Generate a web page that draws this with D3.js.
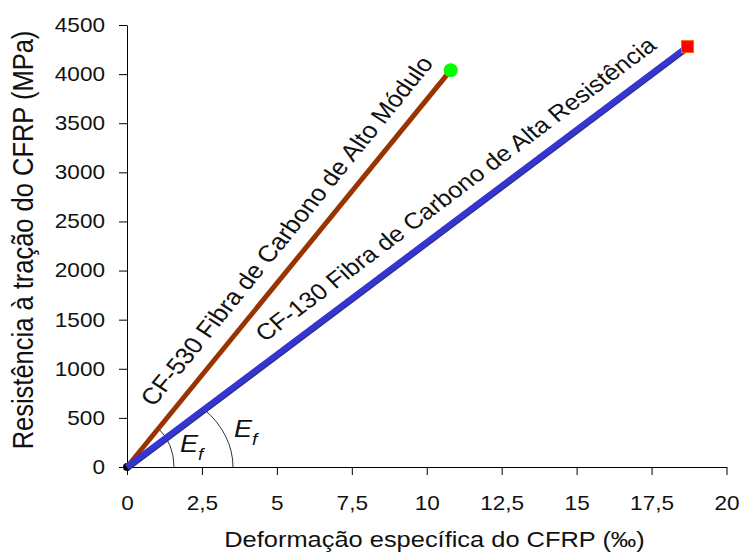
<!DOCTYPE html>
<html>
<head>
<meta charset="utf-8">
<script src="https://cdn.jsdelivr.net/npm/d3@7"></script>
<style>
  body { margin: 0; background: #fff; }
  svg { font-family: "Liberation Sans", Arial, sans-serif; }
</style>
</head>
<body>
<svg id="chart" width="741" height="552"></svg>
<script>
// values
const xTicks = [0, 2.5, 5, 7.5, 10, 12.5, 15, 17.5, 20];
const yTicks = [0, 500, 1000, 1500, 2000, 2500, 3000, 3500, 4000, 4500];

const seriesNames = ['CF-530 Fibra de Carbono de Alto Módulo', 'CF-130 Fibra de Carbono de Alta Resistência'];
const strainAM = [0, 10.8];   // ‰
const stressAM = [0, 4040];   // MPa
const strainAR = [0, 18.7];
const stressAR = [0, 4280];

const xTitle = 'Deformação específica do CFRP (‰)';
const yTitle = 'Resistência à tração do CFRP (MPa)';

const svg = d3.select('#chart');
const sx = 1.13; // the picture's text is a bit wide

// scales
const x = d3.scaleLinear().domain([0, 20]).range([127, 726.5]);
const y = d3.scaleLinear().domain([0, 4500]).range([467, 25]);

const fmt = d => String(d).replace('.', ',');

// axes
const xAxis = d3.axisBottom(x).tickValues(xTicks).tickFormat(fmt).tickSize(8).tickSizeOuter(0).tickPadding(21);
const yAxis = d3.axisLeft(y).tickValues(yTicks).tickFormat(fmt).tickSize(8).tickSizeOuter(0);

const gx = svg.append('g')
  .attr('transform', `translate(0,${y(0)})`)
  .call(xAxis);
gx.selectAll('text')
  .attr('font-size', 20)
  .attr('fill', '#111')
  .attr('transform', `scale(${sx},1)`);

const gy = svg.append('g')
  .attr('transform', `translate(${x(0)},0)`)
  .call(yAxis);
gy.selectAll('text')
  .attr('font-size', 20)
  .attr('fill', '#111')
  .attr('x', -22 / sx)
  .attr('transform', `scale(${sx},1)`);

svg.selectAll('.domain, .tick line').attr('stroke', '#000');
svg.selectAll('g').attr('font-family', null);

// titles
svg.append('text')
  .attr('transform', `translate(434.5,547) scale(${sx},1)`)
  .attr('text-anchor', 'middle')
  .attr('font-size', 22.5)
  .attr('fill', '#111')
  .text(xTitle);

svg.append('text')
  .attr('transform', `translate(33,240) scale(${sx},1) rotate(-90)`)
  .attr('text-anchor', 'middle')
  .attr('font-size', 25.5)
  .attr('fill', '#111')
  .text(yTitle);

// angle arcs (E_f)
const ox = x(0), oy = y(0);
function angleArc(xs, ys, rx, ry) {
  const ux = x(xs[1]) - ox, uy = y(ys[1]) - oy;
  const t = 1 / Math.sqrt((ux / rx) ** 2 + (uy / ry) ** 2);
  return `M ${ox + ux * t},${oy + uy * t} A ${rx},${ry} 0 0 1 ${ox + rx},${oy}`;
}
svg.append('path')
  .attr('d', angleArc(strainAM, stressAM, 47, 52))
  .attr('fill', 'none').attr('stroke', '#333').attr('stroke-width', 1);
svg.append('path')
  .attr('d', angleArc(strainAR, stressAR, 106, 84))
  .attr('fill', 'none').attr('stroke', '#333').attr('stroke-width', 1);

// E_f labels
function efLabel(px, py) {
  const t = svg.append('text')
    .attr('transform', `translate(${px},${py}) scale(${sx},1)`)
    .attr('font-style', 'italic')
    .attr('font-size', 24)
    .attr('fill', '#111');
  t.append('tspan').text('E');
  t.append('tspan').attr('font-size', 17).attr('dy', 8).text('f');
}
efLabel(ox + 53, oy - 15);
efLabel(ox + 107, oy - 30);

// origin marker
svg.append('circle')
  .attr('cx', x(0)).attr('cy', y(0)).attr('r', 4)
  .attr('fill', '#000');

const line = d3.line().x(d => x(d[0])).y(d => y(d[1]));

// CF-530 (alto módulo)
const am = d3.zip(strainAM, stressAM);
svg.append('path')
  .attr('d', line(am))
  .attr('stroke', '#993300').attr('stroke-width', 5).attr('fill', 'none');

// CF-130 (alta resistência) with its dark edge
const ar = d3.zip(strainAR, stressAR);
svg.append('path')
  .attr('d', line(ar))
  .attr('transform', 'translate(0.5,0.8)')
  .attr('stroke', '#25257a').attr('stroke-width', 6).attr('fill', 'none');
svg.append('path')
  .attr('d', line(ar))
  .attr('stroke', '#3535d0').attr('stroke-width', 6).attr('fill', 'none');

// end markers
svg.append('circle')
  .attr('cx', x(strainAM[1])).attr('cy', y(stressAM[1])).attr('r', 7)
  .attr('fill', '#00ff00');
svg.append('rect')
  .attr('x', x(strainAR[1]) - 6).attr('y', y(stressAR[1]) - 6)
  .attr('width', 12).attr('height', 12)
  .attr('fill', '#ff0000').attr('stroke', '#ff6a00').attr('stroke-width', 1);

// labels along the lines
function lineLabel(xs, ys, name, along, perp, size) {
  const dx = x(xs[1]) - ox, dy = y(ys[1]) - oy;
  const len = Math.hypot(dx, dy);
  const ux = dx / len, uy = dy / len;
  // perpendicular pointing up-left
  const px = ox + ux * along + uy * perp;
  const py = oy + uy * along - ux * perp;
  const ang = Math.atan2(dy, dx / sx) * 180 / Math.PI;
  svg.append('text')
    .attr('transform', `translate(${px},${py}) scale(${sx},1) rotate(${ang})`)
    .attr('font-size', size)
    .attr('fill', '#111')
    .text(name);
}
lineLabel(strainAM, stressAM, seriesNames[0], 63, 17, 23.2);
lineLabel(strainAR, stressAR, seriesNames[1], 185, 17, 22.6);
</script>
</body>
</html>
